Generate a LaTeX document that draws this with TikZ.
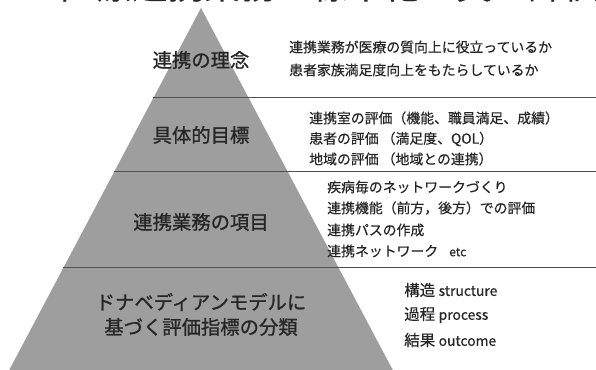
\documentclass[tikz,border=0pt]{standalone}
\usepackage{fontspec}
\newfontfamily\jp[FakeBold=0.4]{Noto Sans CJK JP}
\newfontfamily\jpm[FakeBold=1.0]{Noto Sans CJK JP}
\definecolor{pyrgray}{HTML}{9E9E9E}
\definecolor{txtgray}{HTML}{262626}
\definecolor{linegray}{HTML}{505050}
\tikzset{
  pyr/.style={fill=pyrgray, draw=none},
  divider/.style={draw=linegray, line width=0.75pt},
  lvl/.style={font=\jpm\fontsize{14.5}{17}\selectfont, text=txtgray, anchor=center, inner sep=0pt},
  desc/.style={font=\jp\fontsize{10.4}{12}\selectfont, text=txtgray, anchor=west, inner sep=0pt},
  descb/.style={font=\jp\fontsize{11.6}{13}\selectfont, text=txtgray, anchor=west, inner sep=0pt},
  ttl/.style={font=\jp\fontsize{27}{30}\selectfont, text=txtgray, anchor=center, inner sep=0pt}
}
\begin{document}
\begin{tikzpicture}[x=0.75pt,y=-0.75pt]
\useasboundingbox (0,0) rectangle (596,370);
\clip (0,0) rectangle (596,370);
\fill[white] (0,0) rectangle (596,370);
% title (cut off at the top)
\node[ttl] (title) at (330,-15) {医療連携業務の標準化と質の評価};
% pyramid
\coordinate (apex) at (201,8);
\coordinate (bl) at (5,378);
\coordinate (br) at (397,378);
\fill[pyr] (apex) -- (bl) -- (br) -- cycle;
% dividers
\coordinate (d1l) at (153.3,98);  \coordinate (d1r) at (596,98);
\coordinate (d2l) at (114,172);   \coordinate (d2r) at (596,172);
\coordinate (d3l) at (63,268);    \coordinate (d3r) at (596,268);
\draw[divider] (d1l) -- (d1r);
\draw[divider] (d2l) -- (d2r);
\draw[divider] (d3l) -- (d3r);
% level labels
\node[lvl] (l1) at (201,60) {連携の理念};
\node[lvl] (l2) at (201,135) {具体的目標};
\node[lvl] (l3) at (201,222) {連携業務の項目};
\node[lvl] (l4a) at (201,302) {ドナベディアンモデルに};
\node[lvl] (l4b) at (201,327) {基づく評価指標の分類};
% descriptions
\node[desc] (t1a) at (289,47) {連携業務が医療の質向上に役立っているか};
\node[desc] (t1b) at (289,70) {患者家族満足度向上をもたらしているか};
\node[desc] (t2a) at (309,118) {連携室の評価（機能、職員満足、成績）};
\node[desc] (t2b) at (309,139) {患者の評価 （満足度、QOL）};
\node[desc] (t2c) at (309,159) {地域の評価 （地域との連携）};
\node[desc] (t3a) at (327,187) {疾病毎のネットワークづくり};
\node[desc] (t3b) at (327,208) {連携機能（前方，後方）での評価};
\node[desc] (t3c) at (327,230) {連携パスの作成};
\node[desc] (t3d) at (327,251) {連携ネットワーク\hspace{0.8em}{\fontsize{9}{10}\selectfont etc}};
\node[descb] (t4a) at (404,290) {構造 {\fontsize{10.4}{12}\selectfont structure}};
\node[descb] (t4b) at (404,315) {過程 {\fontsize{10.4}{12}\selectfont process}};
\node[descb] (t4c) at (404,340) {結果 {\fontsize{10.4}{12}\selectfont outcome}};
\end{tikzpicture}
\end{document}
